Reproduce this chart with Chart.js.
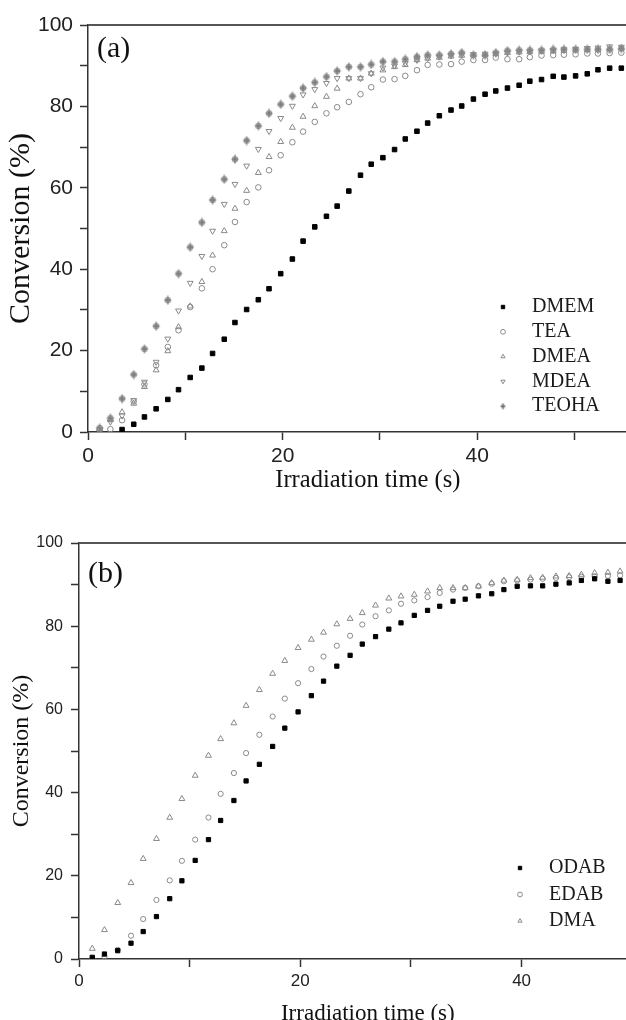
<!DOCTYPE html>
<html>
<head>
<meta charset="utf-8">
<script src="https://cdn.jsdelivr.net/npm/chart.js@4.4.1/dist/chart.umd.min.js"></script>
<style>
  html, body { margin: 0; padding: 0; background: #fff; overflow: hidden; }
  #wrap { position: relative; width: 626px; height: 1020px; overflow: hidden; }
  #chartA { position: absolute; left: 0; top: 0; }
  #chartB { position: absolute; left: 0; top: 500px; }
</style>
</head>
<body>
<div id="wrap">
  <canvas id="chartA" width="652" height="500"></canvas>
  <canvas id="chartB" width="661" height="525"></canvas>
</div>
<script>
// irradiation times (s) of the samples
var timeA = [1.2, 2.3, 3.5, 4.7, 5.8, 7.0, 8.2, 9.3, 10.5, 11.7, 12.8, 14.0, 15.1, 16.3, 17.5, 18.6, 19.8, 21.0, 22.1, 23.3, 24.5, 25.6, 26.8, 28.0, 29.1, 30.3, 31.5, 32.6, 33.8, 34.9, 36.1, 37.3, 38.4, 39.6, 40.8, 41.9, 43.1, 44.3, 45.4, 46.6, 47.8, 48.9, 50.1, 51.3, 52.4, 53.6, 54.8];
var timeB = [1.2, 2.3, 3.5, 4.7, 5.8, 7.0, 8.2, 9.3, 10.5, 11.7, 12.8, 14.0, 15.1, 16.3, 17.5, 18.6, 19.8, 21.0, 22.1, 23.3, 24.5, 25.6, 26.8, 28.0, 29.1, 30.3, 31.5, 32.6, 33.8, 34.9, 36.1, 37.3, 38.4, 39.6, 40.8, 41.9, 43.1, 44.3, 45.4, 46.6, 47.8, 48.9];

// panel (a) conversion (%)
var dmem = [null, null, 0.6, 1.9, 3.7, 5.7, 8.0, 10.4, 13.4, 15.7, 19.3, 22.8, 26.9, 30.1, 32.5, 35.2, 38.9, 42.5, 46.9, 50.4, 53.0, 55.5, 59.2, 63.1, 65.8, 67.4, 69.4, 72.0, 73.9, 75.9, 77.7, 79.1, 80.1, 81.8, 83.0, 83.8, 84.5, 85.2, 86.2, 86.6, 87.4, 87.2, 87.5, 88.0, 89.0, 89.4, 89.4];
var tea = [0.5, 0.7, 2.9, 7.5, 11.7, 16.4, 20.9, 25.0, 30.7, 35.3, 40.0, 45.9, 51.6, 56.5, 60.1, 64.3, 68.0, 71.2, 73.8, 76.2, 78.3, 79.8, 81.1, 83.0, 84.7, 86.6, 86.7, 87.5, 88.9, 90.2, 90.3, 90.4, 91.0, 91.4, 91.4, 92.0, 91.6, 91.6, 92.1, 92.5, 92.6, 92.7, 92.8, 93.0, 93.0, 93.1, 93.2];
var dmea = [0.8, 3.0, 4.9, 7.0, 11.1, 15.2, 19.9, 25.8, 30.9, 36.9, 43.4, 49.4, 54.9, 59.3, 63.7, 67.6, 71.3, 74.8, 77.5, 80.1, 82.4, 84.4, 86.9, 86.9, 88.1, 88.9, 89.7, 90.2, 91.4, 91.8, 92.0, 92.3, 92.5, 92.6, 92.7, 92.9, 93.2, 93.3, 93.4, 93.5, 93.6, 93.7, 93.8, 93.9, 94.0, 94.2, 94.3];
var mdea = [0.6, 2.5, 4.0, 7.8, 12.3, 17.2, 22.9, 29.8, 36.6, 43.2, 49.4, 56.0, 60.9, 65.4, 69.5, 73.9, 77.1, 80.1, 82.9, 84.2, 85.7, 86.9, 86.9, 86.9, 88.1, 89.5, 90.0, 90.6, 91.4, 91.8, 92.2, 92.5, 92.7, 92.8, 92.9, 93.0, 93.2, 93.4, 93.5, 93.7, 93.8, 94.0, 94.1, 94.3, 94.4, 94.7, 94.6];
var teoha = [1.0, 3.4, 8.2, 14.1, 20.4, 26.0, 32.4, 38.9, 45.4, 51.5, 57.0, 62.1, 67.0, 71.6, 75.2, 78.3, 80.5, 82.5, 84.5, 85.9, 87.3, 88.7, 89.7, 89.7, 90.3, 91.0, 91.0, 91.6, 92.2, 92.6, 92.6, 92.9, 93.2, 92.6, 92.6, 93.2, 93.7, 93.8, 93.8, 93.8, 94.0, 94.0, 94.0, 94.0, 94.0, 94.0, 94.2];

// panel (b) conversion (%)
var odab = [0.4, 1.2, 2.0, 3.8, 6.6, 10.2, 14.5, 18.8, 23.7, 28.7, 33.3, 38.1, 42.8, 46.8, 51.1, 55.5, 59.4, 63.3, 66.8, 70.4, 73.0, 75.7, 77.5, 79.3, 80.8, 82.6, 83.8, 84.8, 86.0, 86.5, 87.3, 87.8, 88.8, 89.6, 89.7, 89.7, 90.1, 90.4, 91.0, 91.4, 90.8, 91.0];
var edab = [0.2, 0.6, 2.2, 5.6, 9.6, 14.2, 18.9, 23.6, 28.7, 34.0, 39.7, 44.7, 49.5, 53.9, 58.3, 62.6, 66.3, 69.7, 72.7, 75.3, 77.7, 80.4, 82.4, 83.8, 85.4, 86.2, 87.0, 88.0, 88.8, 89.2, 89.6, 90.2, 90.8, 91.0, 91.2, 91.4, 91.6, 91.8, 91.9, 92.0, 92.1, 92.2];
var dma = [2.5, 7.0, 13.5, 18.3, 24.1, 28.9, 34.0, 38.5, 44.1, 48.9, 52.9, 56.7, 60.9, 64.7, 68.6, 71.7, 74.8, 76.8, 78.5, 80.5, 81.8, 83.2, 85.0, 86.7, 87.2, 87.6, 88.4, 89.2, 89.2, 89.2, 89.6, 90.4, 91.0, 91.2, 91.6, 91.7, 92.0, 92.1, 92.4, 92.8, 92.9, 93.2];

var yTickLabels = [0, 20, 40, 60, 80, 100];
var xTickLabels = [0, 20, 40];

var GREY = '#8a8a8a';
var HOLLOW = 'rgba(255,255,255,0)';

function pts(t, v) {
  var out = [];
  for (var i = 0; i < t.length; i++) {
    if (v[i] !== null) out.push({x: t[i], y: v[i]});
  }
  return out;
}

// crossed grey dot used for TEOHA
function crossMark(size) {
  var c = document.createElement('canvas');
  c.width = size; c.height = size;
  var h = size / 2;
  var g = c.getContext('2d');
  g.fillStyle = '#a2a2a2';
  g.beginPath(); g.arc(h, h, h * 0.64, 0, Math.PI * 2); g.fill();
  g.strokeStyle = '#6e6e6e'; g.lineWidth = 1;
  g.beginPath();
  g.moveTo(h, 0.5); g.lineTo(h, size - 0.5);
  g.moveTo(h * 0.3, h); g.lineTo(size - h * 0.3, h);
  g.stroke();
  return c;
}

function set(label, t, v, style, color, fill, r, rot, legendStyle) {
  return {
    label: label,
    data: pts(t, v),
    pointStyle: style,
    legendStyle: legendStyle || style,
    pointRotation: rot || 0,
    pointRadius: r,
    pointHoverRadius: r,
    pointBorderWidth: 1,
    borderColor: color,
    backgroundColor: fill,
    showLine: false
  };
}

var framePlugin = {
  id: 'frame',
  afterDraw: function(chart, args, o) {
    var a = chart.chartArea, ctx = chart.ctx;
    ctx.save();
    ctx.strokeStyle = '#555';
    ctx.lineWidth = 2;
    ctx.beginPath();
    ctx.moveTo(a.left, a.top);
    ctx.lineTo(a.right, a.top);
    ctx.stroke();
    ctx.fillStyle = '#111';
    ctx.font = o.tagFont;
    ctx.textBaseline = 'middle';
    ctx.fillText(o.tag, a.left + o.tagDx, a.top + o.tagDy);
    ctx.restore();
  }
};

var legendPlugin = {
  id: 'sideLegend',
  afterDraw: function(chart, args, o) {
    var ctx = chart.ctx;
    ctx.save();
    ctx.font = o.font;
    ctx.textBaseline = 'middle';
    chart.data.datasets.forEach(function(ds, i) {
      var y = o.y + i * o.gap;
      ctx.fillStyle = ds.backgroundColor;
      ctx.strokeStyle = ds.borderColor;
      ctx.lineWidth = 1;
      Chart.helpers.drawPoint(ctx, {pointStyle: ds.legendStyle, radius: o.r, rotation: ds.pointRotation, borderWidth: 1}, o.x, y);
      ctx.fillStyle = '#1a1a1a';
      ctx.fillText(ds.label, o.textX, y);
    });
    ctx.restore();
  }
};

function makeChart(id, datasets, p) {
  return new Chart(document.getElementById(id), {
    type: 'scatter',
    data: {datasets: datasets},
    options: {
      responsive: false,
      animation: false,
      events: [],
      layout: {padding: {top: p.top, left: 0, right: 0, bottom: 0}},
      plugins: {
        legend: {display: false},
        tooltip: {enabled: false},
        frame: {tag: p.tag, tagFont: '30px "Liberation Serif"', tagDx: 9, tagDy: p.tagDy},
        sideLegend: p.legend
      },
      scales: {
        x: {
          type: 'linear', min: 0, max: p.xMax,
          afterFit: function(s) { s.height = p.xHeight; },
          border: {color: '#333', width: 1.5},
          grid: {drawOnChartArea: false, tickLength: 8, tickColor: '#333', tickWidth: 1.5},
          ticks: {
            stepSize: 10, includeBounds: false, maxRotation: 0, autoSkip: false,
            padding: p.xPad, color: '#222',
            font: {family: '"Liberation Sans", Arial', size: p.xTickSize},
            callback: function(v) { return xTickLabels.indexOf(v) >= 0 ? v : ''; }
          },
          title: {
            display: true, text: 'Irradiation time (s)', color: '#111',
            font: {family: '"Liberation Serif"', size: p.xTitleSize, lineHeight: 1},
            padding: {top: 0, bottom: p.xTitlePad}
          }
        },
        y: {
          min: 0, max: 100,
          afterFit: function(s) { s.width = p.yWidth; },
          border: {color: '#333', width: 1.5},
          grid: {drawOnChartArea: false, tickLength: 8, tickColor: '#333', tickWidth: 1.5},
          ticks: {
            stepSize: 10, padding: p.yPad, color: '#222',
            font: {family: '"Liberation Sans", Arial', size: p.yTickSize},
            callback: function(v) { return yTickLabels.indexOf(v) >= 0 ? v : ''; }
          },
          title: {
            display: true, text: 'Conversion (%)', color: '#111',
            font: {family: '"Liberation Serif"', size: p.yTitleSize, lineHeight: 1},
            padding: {top: p.yTitlePad, bottom: 0}
          }
        }
      }
    },
    plugins: [framePlugin, legendPlugin]
  });
}

makeChart('chartA', [
  set('DMEM', timeA, dmem, 'rect', '#000', '#000', 3.2),
  set('TEA', timeA, tea, 'circle', GREY, HOLLOW, 2.8),
  set('DMEA', timeA, dmea, 'triangle', GREY, HOLLOW, 3.4),
  set('MDEA', timeA, mdea, 'triangle', GREY, HOLLOW, 3.4, 180),
  set('TEOHA', timeA, teoha, crossMark(10), GREY, GREY, 3.4, 0, crossMark(7))
], {
  top: 25, xMax: 57.5, xHeight: 68, yWidth: 88,
  xPad: 4, yPad: 7, xTickSize: 21, yTickSize: 21,
  xTitleSize: 24.5, xTitlePad: 7, yTitleSize: 30, yTitlePad: 6,
  tag: '(a)', tagDy: 24,
  legend: {x: 503, textX: 532, y: 307, gap: 24.8, r: 2.4, font: '20px "Liberation Serif"'}
});

makeChart('chartB', [
  set('ODAB', timeB, odab, 'rect', '#000', '#000', 3.0),
  set('EDAB', timeB, edab, 'circle', GREY, HOLLOW, 2.6),
  set('DMA', timeB, dma, 'triangle', GREY, HOLLOW, 3.4)
], {
  top: 43, xMax: 52.2, xHeight: 66, yWidth: 79,
  xPad: 4, yPad: 8, xTickSize: 17, yTickSize: 16,
  xTitleSize: 23, xTitlePad: 0, yTitleSize: 24, yTitlePad: 9.5,
  tag: '(b)', tagDy: 31,
  legend: {x: 520, textX: 549, y: 368, gap: 26.5, r: 2.4, font: '20px "Liberation Serif"'}
});
</script>
</body>
</html>
